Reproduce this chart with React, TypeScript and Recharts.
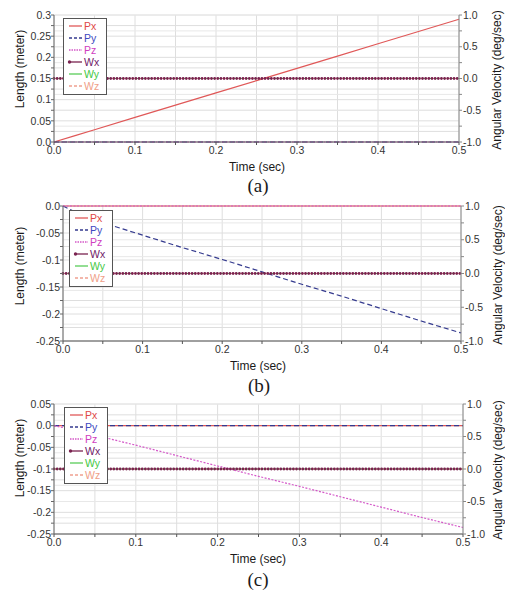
import { LineChart, Line, XAxis, YAxis, CartesianGrid, Legend } from 'recharts'

// sample times (sec)
const time = [0, 0.025, 0.05, 0.1, 0.15, 0.2, 0.25, 0.3, 0.35, 0.4, 0.45, 0.5]
const still = [0, 0, 0, 0, 0, 0, 0, 0, 0, 0, 0, 0]

// (a) translation along x
const pxA = [0, 0.0145, 0.029, 0.058, 0.087, 0.116, 0.145, 0.174, 0.203, 0.232, 0.261, 0.29]
// (b) translation along y
const pyB = [0, -0.018, -0.031, -0.054, -0.077, -0.099, -0.122, -0.145, -0.167, -0.19, -0.213, -0.235]
// (c) translation along z
const pzC = [0, -0.01, -0.022, -0.045, -0.069, -0.093, -0.117, -0.14, -0.164, -0.188, -0.212, -0.235]

const xTicks = [0, 0.05, 0.1, 0.15, 0.2, 0.25, 0.3, 0.35, 0.4, 0.45, 0.5]
const lenTicksA = [0, 0.025, 0.05, 0.075, 0.1, 0.125, 0.15, 0.175, 0.2, 0.225, 0.25, 0.275, 0.3]
const lenTicksB = [-0.25, -0.225, -0.2, -0.175, -0.15, -0.125, -0.1, -0.075, -0.05, -0.025, 0]
const lenTicksC = [-0.25, -0.225, -0.2, -0.175, -0.15, -0.125, -0.1, -0.075, -0.05, -0.025, 0, 0.025, 0.05]
const angTicks = [-1, -0.75, -0.5, -0.25, 0, 0.25, 0.5, 0.75, 1]

const SANS = "'Liberation Sans', Arial, sans-serif"
const SERIF = "'Liberation Serif', 'Times New Roman', serif"

interface SeriesStyle {
  key: string
  name: string
  color: string
  text: string
  width: number
  dash?: string
  axis: 'l' | 'r'
}

const series: Record<string, SeriesStyle> = {
  px: { key: 'px', name: 'Px', color: '#e05858', text: '#e04848', width: 1.2, axis: 'l' },
  py: { key: 'py', name: 'Py', color: '#343a8e', text: '#4048c0', width: 1.2, dash: '5 3', axis: 'l' },
  pz: { key: 'pz', name: 'Pz', color: '#d458c8', text: '#d040c0', width: 1.2, dash: '2 1.5', axis: 'l' },
  wx: { key: 'wx', name: 'Wx', color: '#7a2350', text: '#702068', width: 1.2, axis: 'r' },
  wy: { key: 'wy', name: 'Wy', color: '#58cc58', text: '#44c844', width: 1, axis: 'r' },
  wz: { key: 'wz', name: 'Wz', color: '#f0a090', text: '#f0a088', width: 1.2, dash: '4 3', axis: 'r' },
}
const legendOrder = ['px', 'py', 'pz', 'wx', 'wy', 'wz']
const drawOrder = ['wy', 'wz', 'px', 'py', 'pz']

const fmtX = (v: number) => (Math.round(v * 100) % 10 === 0 ? v.toFixed(1) : '')
const fmtLen = (v: number) => {
  if (Math.abs(Math.round(v * 1000)) % 50 !== 0) return ''
  if (Math.abs(v) < 1e-9) return '0.0'
  return String(v)
}
const fmtAng = (v: number) => (Math.abs(Math.round(v * 100)) % 50 === 0 ? v.toFixed(1) : '')

const LegendBox = () => (
  <div style={{ background: '#fff', border: '1px solid #555', padding: '1px 0 2px 3px', fontFamily: SANS, fontSize: 10.5, lineHeight: '12px' }}>
    {legendOrder.map((k) => {
      const s = series[k]
      return (
        <div key={k} style={{ display: 'flex', alignItems: 'center', height: 12 }}>
          <svg width={16} height={12}>
            <line x1={2} x2={15} y1={6} y2={6} stroke={s.color} strokeWidth={1.3} strokeDasharray={k === 'pz' ? '1.5 1' : k === 'py' || k === 'wz' ? '3 2' : undefined} />
            {k === 'wx' && <circle cx={2.5} cy={6} r={1.7} fill={s.color} />}
          </svg>
          <span style={{ color: s.text, marginLeft: 1 }}>{s.name}</span>
        </div>
      )
    })}
  </div>
)

const Caption = ({ x, y, text, size, font, rotate = 0 }: { x: number; y: number; text: string; size: number; font: string; rotate?: number }) => (
  <div style={{ position: 'absolute', left: x, top: y, transform: `translate(-50%, -50%) rotate(${rotate}deg)`, whiteSpace: 'nowrap', fontSize: size, fontFamily: font, color: '#1a1a1a', lineHeight: 1 }}>
    {text}
  </div>
)

interface PanelProps {
  top: number
  height: number
  plotTop: number
  leftW: number
  rightW: number
  px: number[]
  py: number[]
  pz: number[]
  lenTicks: number[]
  legend: { left: number; top: number }
}

const Panel = ({ top, height, plotTop, leftW, rightW, px, py, pz, lenTicks, legend }: PanelProps) => {
  const data = time.map((t, i) => ({ t, px: px[i], py: py[i], pz: pz[i], wx: still[i], wy: still[i], wz: still[i] }))
  const tickStyle = { fontSize: 10.5, fill: '#333', fontFamily: SANS }
  return (
    <div style={{ position: 'absolute', left: 0, top }}>
      <LineChart width={505} height={height} data={data} margin={{ top: plotTop, right: 0, left: 0, bottom: 0 }}>
        <CartesianGrid yAxisId="l" stroke="#dedede" strokeWidth={1} />
        <CartesianGrid yAxisId="r" stroke="#e8e8e8" strokeWidth={1} vertical={false} />
        <XAxis dataKey="t" type="number" domain={[0, 0.5]} ticks={xTicks} interval={0} tickFormatter={fmtX}
          height={18} tick={tickStyle} tickSize={3} tickMargin={2} stroke="#555" />
        <YAxis yAxisId="l" type="number" domain={[lenTicks[0], lenTicks[lenTicks.length - 1]]} ticks={lenTicks} interval={0}
          tickFormatter={fmtLen} width={leftW} tick={tickStyle} tickSize={3} tickMargin={0} stroke="#666" />
        <YAxis yAxisId="r" orientation="right" type="number" domain={[-1, 1]} ticks={angTicks} interval={0}
          tickFormatter={fmtAng} width={rightW} tick={tickStyle} tickSize={3} tickMargin={1} stroke="#888" />
        <Legend layout="vertical" align="center" verticalAlign="middle" content={<LegendBox />}
          wrapperStyle={{ left: legend.left, top: legend.top, width: 44, height: 'auto' }} />
        {drawOrder.map((k) => {
          const s = series[k]
          return (
            <Line key={k} yAxisId={s.axis} dataKey={k} name={s.name} stroke={s.color} strokeWidth={s.width}
              strokeDasharray={s.dash} dot={false} activeDot={false} isAnimationActive={false} type="linear" />
          )
        })}
        <Line yAxisId="r" dataKey="wx" name="Wx" stroke={series.wx.color} strokeWidth={2.8} strokeDasharray="0 3.15"
          strokeLinecap="round" dot={false} activeDot={false} isAnimationActive={false} legendType="none" />
      </LineChart>
    </div>
  )
}

export default function App() {
  return (
    <div style={{ position: 'relative', width: 505, height: 591, background: '#fff', overflow: 'hidden' }}>
      <style>{'body{margin:0}'}</style>
      <Panel top={0} height={160} plotTop={15} leftW={54} rightW={46} px={pxA} py={still} pz={still}
        lenTicks={lenTicksA} legend={{ left: 63, top: 18 }} />
      <Caption x={20} y={69} text="Length (meter)" size={12} font={SANS} rotate={-90} />
      <Caption x={497} y={80} text="Angular Velocity (deg/sec)" size={12} font={SANS} rotate={-90} />
      <Caption x={257} y={167} text="Time (sec)" size={12} font={SANS} />
      <Caption x={258} y={185} text="(a)" size={19} font={SERIF} />

      <Panel top={190} height={169} plotTop={16} leftW={63} rightW={44} px={still} py={pyB} pz={still}
        lenTicks={lenTicksB} legend={{ left: 69, top: 20 }} />
      <Caption x={20} y={266} text="Length (meter)" size={12} font={SANS} rotate={-90} />
      <Caption x={498} y={275} text="Angular Velocity (deg/sec)" size={12} font={SANS} rotate={-90} />
      <Caption x={258} y={366} text="Time (sec)" size={12} font={SANS} />
      <Caption x={259} y={385} text="(b)" size={19} font={SERIF} />

      <Panel top={390} height={162} plotTop={14} leftW={54} rightW={42} px={still} py={still} pz={pzC}
        lenTicks={lenTicksC} legend={{ left: 64, top: 17 }} />
      <Caption x={20} y={458} text="Length (meter)" size={12} font={SANS} rotate={-90} />
      <Caption x={498} y={470} text="Angular Velocity (deg/sec)" size={12} font={SANS} rotate={-90} />
      <Caption x={258} y={559} text="Time (sec)" size={12} font={SANS} />
      <Caption x={258} y={579} text="(c)" size={19} font={SERIF} />
    </div>
  )
}
